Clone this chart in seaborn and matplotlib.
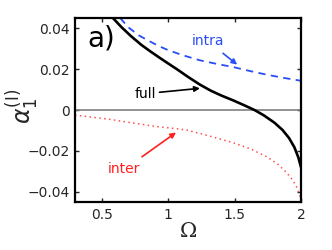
import matplotlib
matplotlib.use("Agg")
import matplotlib.pyplot as plt
import seaborn as sns
import pandas as pd

# Data
omega_full = [0.585, 0.65, 0.72, 0.80, 0.864, 0.94, 1.0, 1.07, 1.15, 1.24, 1.32, 1.40, 1.49, 1.57, 1.65, 1.72, 1.80, 1.86, 1.91, 1.95, 1.98, 2.0]
alpha_full = [0.045, 0.0405, 0.0362, 0.0318, 0.0288, 0.0254, 0.0228, 0.0198, 0.0162, 0.0124, 0.0095, 0.0071, 0.0047, 0.0024, 0.0, -0.0026, -0.0062, -0.0097, -0.0137, -0.0182, -0.0232, -0.0280]

omega_intra = [0.64, 0.70, 0.78, 0.864, 0.94, 1.0, 1.11, 1.24, 1.37, 1.49, 1.62, 1.74, 1.87, 2.0]
alpha_intra = [0.045, 0.0405, 0.0365, 0.0335, 0.031, 0.0293, 0.0268, 0.0243, 0.0225, 0.0210, 0.0190, 0.0173, 0.0157, 0.0143]

omega_inter = [0.3, 0.49, 0.563, 0.70, 0.90, 1.07, 1.14, 1.30, 1.49, 1.62, 1.74, 1.82, 1.89, 1.94, 1.97, 1.99, 2.0]
alpha_inter = [-0.0025, -0.0040, -0.0046, -0.0060, -0.0080, -0.0092, -0.0098, -0.0125, -0.0160, -0.0190, -0.0228, -0.0262, -0.0305, -0.0345, -0.0380, -0.0415, -0.0445]

xticks = [0.5, 1, 1.5, 2]
xtick_labels = ["0.5", "1", "1.5", "2"]
yticks = [-0.04, -0.02, 0, 0.02, 0.04]
ytick_labels = ["\u22120.04", "\u22120.02", "0", "0.02", "0.04"]

sns.set_style("ticks")
plt.rcParams['font.family'] = ['DejaVu Sans']

fig = plt.figure(figsize=(3.32, 2.5), dpi=100)
ax = fig.add_axes([75/332, 1 - 202/250, 226/332, 184/250])

ax.axhline(0, color="#808080", lw=1.2, zorder=1)

df_full = pd.DataFrame({"Omega": omega_full, "alpha": alpha_full})
df_intra = pd.DataFrame({"Omega": omega_intra, "alpha": alpha_intra})
df_inter = pd.DataFrame({"Omega": omega_inter, "alpha": alpha_inter})

sns.lineplot(data=df_full, x="Omega", y="alpha", ax=ax, color="black", lw=1.9, sort=False)
sns.lineplot(data=df_intra, x="Omega", y="alpha", ax=ax, color="#2a4df5", lw=1.3,
             linestyle=(0, (4, 3)), sort=False)
sns.lineplot(data=df_inter, x="Omega", y="alpha", ax=ax, color="#ff5050", lw=1.1,
             linestyle=(0, (1, 2.2)), sort=False)

ax.set_xlim(0.3, 2.0)
ax.set_ylim(-0.045, 0.045)
ax.set_xticks(xticks)
ax.set_xticklabels(xtick_labels)
ax.set_yticks(yticks)
ax.set_yticklabels(ytick_labels)
ax.tick_params(direction="in", top=True, right=True, labelsize=10, length=3, width=1, pad=4)
for s in ax.spines.values():
    s.set_linewidth(1.6)
    s.set_color("black")

ax.set_xlabel("\u03a9", fontsize=15, family="DejaVu Serif", labelpad=0)
ax.set_ylabel(r"$\alpha_1^{(\mathrm{I})}$", fontsize=17)
ax.yaxis.set_label_coords(-0.15, 0.52)

ax.text(0.39, 0.031, "a)", fontsize=20, color="black")

ax.annotate("intra", xy=(1.52, 0.0222), xytext=(1.30, 0.0336), color="#2a4df5", fontsize=10,
            arrowprops=dict(arrowstyle="-|>", color="#2a4df5", lw=1.2, mutation_scale=8,
                            shrinkA=2, shrinkB=0), ha="center", va="center")
ax.annotate("full", xy=(1.24, 0.0106), xytext=(0.83, 0.0080), color="black", fontsize=10,
            arrowprops=dict(arrowstyle="-|>", color="black", lw=1.2, mutation_scale=8,
                            shrinkA=0, shrinkB=0), ha="center", va="center")
ax.annotate("inter", xy=(1.06, -0.0110), xytext=(0.67, -0.0291), color="#ff2020", fontsize=10,
            arrowprops=dict(arrowstyle="-|>", color="#ff2020", lw=1.2, mutation_scale=8,
                            shrinkA=3, shrinkB=0), ha="center", va="center")

fig.savefig("out.png", dpi=100)
